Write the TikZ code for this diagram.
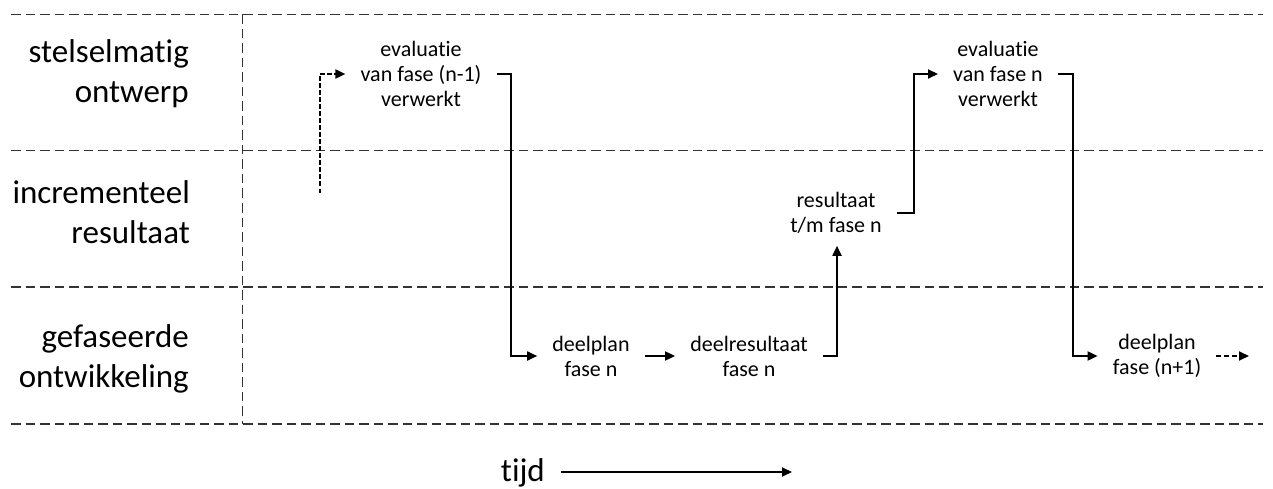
\documentclass[tikz,border=0pt]{standalone}
\usepackage{fontspec}
\setmainfont{Carlito}[Ligatures={NoCommon,NoContextual}]
\usetikzlibrary{arrows.meta,calc}
\begin{document}
\begin{tikzpicture}[x=1pt,y=-1pt,
  grid/.style={draw=black!80, line width=1.3pt, dash pattern=on 9.5pt off 5pt},
  lane/.style={anchor=base east, align=right, inner sep=0pt, font=\fontsize{33}{40}\selectfont},
  item/.style={align=center, inner xsep=15pt, inner ysep=0pt, font=\fontsize{22}{25}\selectfont},
  conn/.style={line width=1.8pt},
  flow/.style={conn, -{Triangle[length=10pt,width=9pt]}},
  dflow/.style={flow, dash pattern=on 4.5pt off 2.5pt}]
\useasboundingbox (0,0) rectangle (1273,489);
% swimlane grid
\foreach \yy in {14.5,150.5,287,424} \draw[grid] (11,\yy) -- (1263,\yy);
\draw[grid] (242.7,14.5) -- (242.7,424);
% lane labels (base = last line)
\node[lane] (l1) at (189,103) {stelselmatig\\ontwerp};
\node[lane] (l2) at (190,243) {incrementeel\\resultaat};
\node[lane] (l3) at (189,387) {gefaseerde\\ontwikkeling};
% items
\node[item] (ev1) at (421,74) {evaluatie\\van fase (n-1)\\verwerkt};
\node[item] (dp1) at (591,356) {deelplan\\fase n};
\node[item] (dr1) at (749,356) {deelresultaat\\fase n};
\node[item] (res) at (836,213) {resultaat\\t/m fase n};
\node[item] (ev2) at (998,74) {evaluatie\\van fase n\\verwerkt};
\node[item] (dp2) at (1157,356) {deelplan\\fase (n+1)};
\node[anchor=base east, inner ysep=0pt, inner xsep=16pt, font=\fontsize{33}{40}\selectfont] (tijd) at (561,481) {tijd};
% bend points
\coordinate (s0) at (320,193);
\coordinate (k1) at (511,74);
\coordinate (k3) at (837,356);
\coordinate (k4) at (914,213);
\coordinate (k5) at (1073,74);
\coordinate (e2) at (1249,356);
\coordinate (tend) at (792,472);
% connectors
\draw[dflow] (s0) |- (ev1.west);
\draw[flow] (ev1.east) -- (k1) |- (dp1.west);
\draw[flow] (dp1.east) -- (dr1.west);
\draw[flow] (dr1.east) -- (k3) -- ($(k3 |- res.south)+(0,12)$);
\draw[flow] (res.east) -- (k4) |- (ev2.west);
\draw[flow] (ev2.east) -- (k5) |- (dp2.west);
\draw[dflow, dash pattern=on 5pt off 3pt] (dp2.east) -- (e2);
\draw[flow] (tijd.east |- tend) -- (tend);
\end{tikzpicture}
\end{document}
